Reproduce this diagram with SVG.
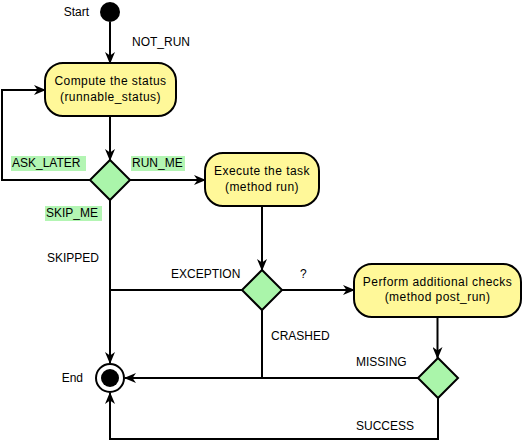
<svg xmlns="http://www.w3.org/2000/svg" width="523" height="441" viewBox="0 0 523 441">
<style>
text{font-family:"Liberation Sans",Arial,sans-serif;font-size:12px;fill:#000}
.nt{text-anchor:middle;letter-spacing:0.45px}
.box{fill:#fff899;stroke:#000;stroke-width:2}
.dia{fill:#aaf5aa;stroke:#000;stroke-width:2}
.e{fill:none;stroke:#000;stroke-width:2}
.hl{fill:#b3f5b3}
</style>
<defs>
<marker id="ar" viewBox="0 0 12 10" refX="11" refY="5" markerWidth="12" markerHeight="10" markerUnits="userSpaceOnUse" orient="auto">
<path d="M0,0 L12,5 L0,10 L3.5,5 Z" fill="#000"/>
</marker>
</defs>
<rect width="523" height="441" fill="#fff"/>
<g id="connectors">
<path class="e" d="M110,22 V63" marker-end="url(#ar)"/>
<path class="e" d="M110,116 V160" marker-end="url(#ar)"/>
<path class="e" d="M130,180 H205" marker-end="url(#ar)"/>
<path class="e" d="M90,180 H2 V90 H45" marker-end="url(#ar)"/>
<path class="e" d="M110,200 V363" marker-end="url(#ar)"/>
<path class="e" d="M262,206 V270" marker-end="url(#ar)"/>
<path class="e" d="M242,290 H110"/>
<path class="e" d="M282,290 H354" marker-end="url(#ar)"/>
<path class="e" d="M262,310 V378"/>
<path class="e" d="M437.5,317 V358" marker-end="url(#ar)"/>
<path class="e" d="M418,378 H125" marker-end="url(#ar)"/>
<path class="e" d="M438,398 V439 H110 V393" marker-end="url(#ar)"/>
<text x="132" y="46">NOT_RUN</text>
<rect class="hl" x="11" y="156" width="75" height="15"/>
<text x="12" y="167">ASK_LATER</text>
<rect class="hl" x="131" y="156" width="54" height="15"/>
<text x="132" y="167">RUN_ME</text>
<rect class="hl" x="45" y="206" width="57" height="15"/>
<text x="46" y="217">SKIP_ME</text>
<text x="47" y="262">SKIPPED</text>
<text x="171" y="278">EXCEPTION</text>
<text x="300" y="278">?</text>
<text x="271" y="340">CRASHED</text>
<text x="356" y="366">MISSING</text>
<text x="356" y="430">SUCCESS</text>
</g>
<g id="start">
<circle cx="110" cy="12" r="10" fill="#000"/>
<text x="89" y="16" text-anchor="end">Start</text>
</g>
<g id="compute">
<rect class="box" x="45" y="63" width="131" height="53" rx="18"/>
<text class="nt" x="110.5" y="85">Compute the status</text>
<text class="nt" x="110.5" y="101">(runnable_status)</text>
</g>
<g id="decision1">
<polygon class="dia" points="110,160 130,180 110,200 90,180"/>
</g>
<g id="execute">
<rect class="box" x="205" y="153" width="114" height="53" rx="18"/>
<text class="nt" x="262" y="175">Execute the task</text>
<text class="nt" x="262" y="191">(method run)</text>
</g>
<g id="decision2">
<polygon class="dia" points="262,270 282,290 262,310 242,290"/>
</g>
<g id="postrun">
<rect class="box" x="354" y="264" width="167" height="53" rx="18"/>
<text class="nt" x="437.5" y="286">Perform additional checks</text>
<text class="nt" x="437.5" y="301">(method post_run)</text>
</g>
<g id="decision3">
<polygon class="dia" points="438,358 458,378 438,398 418,378"/>
</g>
<g id="end">
<circle cx="110" cy="378" r="14" fill="#fff" stroke="#000" stroke-width="2"/>
<circle cx="110" cy="378" r="9" fill="#000"/>
<text x="83" y="382" text-anchor="end">End</text>
</g>
</svg>
